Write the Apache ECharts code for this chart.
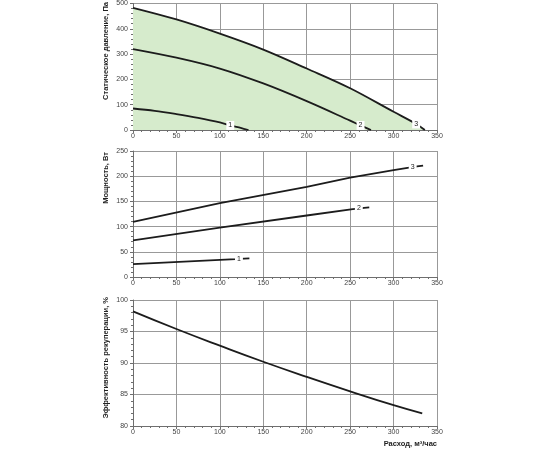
<!DOCTYPE html>
<html>
<head>
<meta charset="utf-8">
<script src="https://cdn.jsdelivr.net/npm/echarts@6/dist/echarts.min.js"></script>
<style>
html,body{margin:0;padding:0;background:#fff;}
#c{width:550px;height:450px;}
</style>
</head>
<body>
<div id="c"></div>
<script>
// ---- Data ----
// Chart 1: static pressure vs flow
const pFlow1 = [0, 25, 50, 75, 100, 112, 124, 133];
const press1 = [85, 76, 63, 48, 30, 18, 8, 0];
const pFlow2 = [0, 50, 100, 150, 200, 250, 262, 274];
const press2 = [320, 286, 243, 184, 114, 37, 18, 0];
const pFlow3 = [0, 50, 100, 150, 200, 250, 300, 326, 336];
const press3 = [483, 437, 381, 318, 243, 165, 72, 24, 0];
const pLabelIdx = [5, 6, 7];
// Chart 2: power vs flow
const wFlow1 = [0, 118, 122, 128, 134];
const power1 = [25.7, 35.6, 36, 36.4, 36.8];
const wFlow2 = [0, 100, 200, 253, 260, 266, 272];
const power2 = [72.5, 98, 122, 134.6, 135.8, 137, 138];
const wFlow3 = [0, 100, 200, 250, 300, 316, 322, 327, 334];
const power3 = [109.5, 146.5, 179, 197, 212, 216.5, 218, 219.5, 221];
const wLabelIdx = [2, 4, 6];
// Chart 3: recuperation efficiency vs flow
const eFlow = [0, 50, 100, 150, 200, 250, 300, 333];
const eff = [98.2, 95.4, 92.75, 90.2, 87.8, 85.5, 83.3, 82.0];

const curveNames = ['1', '2', '3'];
const xTicks = [0, 50, 100, 150, 200, 250, 300, 350];

// ---- Helpers ----
const FONT = 'Liberation Sans, Arial, sans-serif';
const lineColor = '#1c1c1c';
const labelStyle = {
  show: true, position: 'inside', fontSize: 7, color: '#222', fontFamily: FONT,
  backgroundColor: '#ffffff', padding: [1, 2, 0, 2], lineHeight: 8
};
function build(xs, ys, labelIdx, name) {
  return xs.map((x, i) => {
    const item = { value: [x, ys[i]], symbolSize: 0.1 };
    if (i === labelIdx) {
      item.label = Object.assign({}, labelStyle, { formatter: name });
    }
    return item;
  });
}
function xAxisCfg(idx, extra) {
  return Object.assign({
    type: 'value', gridIndex: idx, min: xTicks[0], max: xTicks[xTicks.length - 1], interval: 50,
    axisLine: { show: true, onZero: false, lineStyle: { color: '#6e6e6e', width: 1 } },
    axisTick: { show: true, length: 3, lineStyle: { color: '#6e6e6e' } },
    minorTick: { show: true, splitNumber: 5, length: 2, lineStyle: { color: '#6e6e6e' } },
    axisLabel: { fontSize: 7, color: '#444', margin: 3, fontFamily: FONT },
    splitLine: { show: true, lineStyle: { color: '#999', width: 1 } }
  }, extra || {});
}
function yAxisCfg(idx, min, max, interval) {
  return {
    type: 'value', gridIndex: idx, min: min, max: max, interval: interval,
    axisLine: { show: true, lineStyle: { color: '#6e6e6e', width: 1 } },
    axisTick: { show: true, length: 3, lineStyle: { color: '#6e6e6e' } },
    minorTick: { show: true, splitNumber: 5, length: 2, lineStyle: { color: '#6e6e6e' } },
    axisLabel: { fontSize: 7, color: '#444', margin: 5, fontFamily: FONT },
    splitLine: { show: true, lineStyle: { color: '#999', width: 1 } }
  };
}
function lineSeries(xi, data, smooth, extra) {
  return Object.assign({
    type: 'line', xAxisIndex: xi, yAxisIndex: xi, data: data, smooth: smooth,
    showSymbol: true, symbol: 'circle', symbolSize: 0.1, silent: true, animation: false,
    itemStyle: { color: 'rgba(0,0,0,0)' },
    lineStyle: { color: lineColor, width: 1.8 },
    labelLayout: { hideOverlap: false }
  }, extra || {});
}
function yName(text, x, y) {
  return {
    type: 'text', x: x, y: y, rotation: Math.PI / 2,
    style: { text: text, fontSize: 7.5, fontWeight: 'bold', fontFamily: FONT, fill: '#222',
      textAlign: 'right', textVerticalAlign: 'middle' }
  };
}

const chart = echarts.init(document.getElementById('c'));
chart.setOption({
  animation: false,
  backgroundColor: '#fff',
  grid: [
    { left: 133, right: 113, top: 3, height: 127 },
    { left: 133, right: 113, top: 151, height: 126 },
    { left: 133, right: 113, top: 300, height: 126 }
  ],
  xAxis: [
    xAxisCfg(0), xAxisCfg(1),
    xAxisCfg(2, {
      name: 'Расход, м³/час', nameLocation: 'end', nameGap: 0,
      nameTextStyle: { fontSize: 7.5, fontWeight: 'bold', color: '#222', fontFamily: FONT,
        align: 'right', verticalAlign: 'top', padding: [14, 0, 0, 0] }
    })
  ],
  yAxis: [
    yAxisCfg(0, 0, 500, 100),
    yAxisCfg(1, 0, 250, 50),
    yAxisCfg(2, 80, 100, 5)
  ],
  graphic: [
    yName('Статическое давление, Па', 105.5, 2),
    yName('Мощность, Вт', 106, 152),
    yName('Эффективность рекуперации, %', 106, 297)
  ],
  series: [
    lineSeries(0, build(pFlow3, press3, pLabelIdx[2], curveNames[2]), 0.35, {
      areaStyle: { color: '#d6ebcc', opacity: 1 }, z: 2
    }),
    lineSeries(0, build(pFlow2, press2, pLabelIdx[1], curveNames[1]), 0.35, { z: 3 }),
    lineSeries(0, build(pFlow1, press1, pLabelIdx[0], curveNames[0]), 0.35, { z: 3 }),
    lineSeries(1, build(wFlow1, power1, wLabelIdx[0], curveNames[0]), false),
    lineSeries(1, build(wFlow2, power2, wLabelIdx[1], curveNames[1]), false),
    lineSeries(1, build(wFlow3, power3, wLabelIdx[2], curveNames[2]), false),
    lineSeries(2, build(eFlow, eff, -1, ''), true)
  ]
});
</script>
</body>
</html>
